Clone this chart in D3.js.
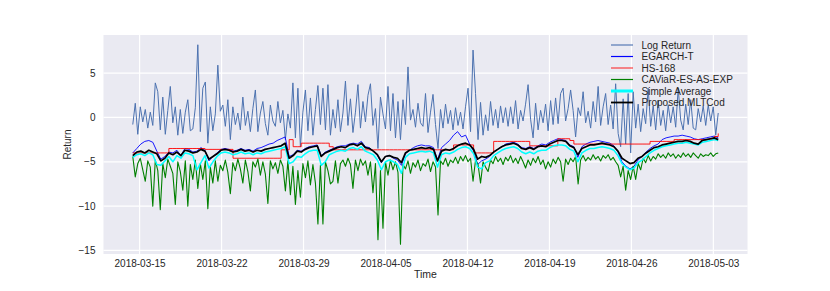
<!DOCTYPE html>
<html>
<head>
<meta charset="utf-8">
<script src="https://cdn.jsdelivr.net/npm/d3@7"></script>
<style>
  body { margin: 0; background: #fff; }
  svg text { font-family: "Liberation Sans", Arial, sans-serif; fill: #262626; }
</style>
</head>
<body>
<svg id="chart"></svg>
<script>
const startTime = '2018-03-14T10:00:00Z';
const endTime = '2018-05-03T10:00:00Z';

const logReturn = [
  -0.8, 1.6, -1.9, 1.2, -0.5, 0.9, -1.2, 0.6, -0.9, 3.9,
  2.9, -1.4, 2.3, -1.9, 0.8, 3.5, -0.6, 1.2, -2.0, 0.9,
  -1.8, 0.6, 2.0, -1.5, -1.3, 1.1, 8.2, -1.6, 3.3, 4.0,
  -2.9, 1.2, -1.5, 0.4, 5.9, 0.7, 1.4, -1.0, 2.0, -2.5,
  1.2, -0.8, 0.5, -1.4, 2.3, -0.9, 0.7, -1.6, 1.0, 3.1,
  -1.6, 0.5, 1.8, -0.7, -2.0, 1.4, -0.4, -1.0, 1.8, -0.6,
  0.8, -2.5, 0.4, -1.2, 3.9, -2.3, 3.3, -3.3, 0.6, 3.1,
  -1.5, 2.2, -2.0, 0.9, 3.6, -0.8, 3.3, -1.4, 3.7, -2.0,
  0.9, -1.2, 2.0, -1.6, 0.5, 4.1, -0.9, 2.1, -1.7, 0.6,
  3.7, -1.2, 1.8, -0.5, 2.5, 3.8, -0.9, 1.0, -3.5, 2.3,
  0.4, -1.3, 3.5, -1.5, 2.7, -2.3, 1.8, -2.5, 2.0, -0.8,
  5.7, -0.3, 0.9, -1.1, 1.6, -0.6, -1.0, 2.7, -1.7, 0.6,
  2.6, -0.8, -3.5, 0.9, -1.2, 1.5, -0.7, 0.8, -1.4, 1.1,
  -0.9, 0.6, -1.3, 1.2, 3.3, -1.6, 7.6, 2.7, -2.5, 1.7,
  -2.0, 0.3, -1.5, 1.8, -0.9, 0.9, -1.2, 1.3, -0.6, 1.1,
  -1.0, 1.2, -0.7, 1.9, -1.3, 0.8, -0.4, 1.5, 3.7, -0.2,
  -2.3, 1.6, -1.4, 0.8, -0.6, 1.5, -1.5, 1.9, -0.8, 2.2,
  -0.7, 2.7, 3.3, -0.4, 1.0, 3.1, 0.8, -2.2, 1.1, 0.2,
  2.9, -0.6, 0.7, -1.2, 1.8, -0.5, 3.5, -0.9, 1.2, 2.7,
  -0.8, 1.4, -1.3, 3.8, -1.8, -3.3, 2.1, -3.0, 2.7, -4.0,
  2.9, -1.2, 1.5, -1.6, 1.0, -0.7, 3.3, -1.0, 1.3, -1.4,
  1.9, -0.9, 0.8, -1.5, 1.4, -0.6, 1.2, -1.1, 3.3, -0.3,
  -1.4, 1.5, -0.8, 2.0, -1.2, -1.4, 1.0, -0.5, 1.3, -0.9,
  1.4, -0.4, 1.2, -2.0, 0.5
];

const egarchT = [
  -4.0, -3.5, -3.0, -2.7, -2.6, -2.8, -3.8, -4.7, -4.4, -3.9,
  -4.0, -3.7, -4.3, -3.5, -3.6, -3.9, -3.8, -3.4, -3.7, -4.9,
  -4.4, -4.0, -3.6, -3.5, -3.6, -3.8, -3.7, -3.5, -3.7, -3.6,
  -3.8, -3.5, -3.4, -3.2, -3.0, -2.9, -2.6, -2.4, -2.2, -4.4,
  -4.2, -3.7, -3.8, -3.5, -3.3, -3.2, -3.1, -4.3, -3.9, -3.7,
  -3.5, -3.3, -3.2, -3.2, -3.0, -2.9, -3.0, -2.7, -3.3, -3.4,
  -3.8, -4.3, -5.1, -4.4, -4.3, -4.6, -4.8, -5.4, -4.1, -3.7,
  -3.4, -3.2, -3.1, -3.2, -3.2, -3.4, -4.8, -3.4, -3.0, -2.6,
  -2.0, -1.6, -2.2, -2.0, -3.0, -3.8, -5.3, -4.9, -4.7, -4.4,
  -3.9, -3.6, -3.3, -3.0, -2.9, -2.8, -3.0, -3.4, -3.5, -3.3,
  -3.5, -3.2, -3.0, -3.1, -2.8, -2.6, -2.4, -2.5, -2.6, -3.1,
  -3.3, -4.5, -3.3, -3.0, -2.8, -2.7, -2.6, -2.7, -2.8, -2.9,
  -3.2, -3.9, -5.0, -5.5, -5.8, -5.5, -4.8, -4.4, -3.9, -3.5,
  -3.2, -3.0, -2.5, -2.3, -2.2, -2.1, -2.1, -2.0, -2.1, -2.2,
  -2.4, -2.5, -2.4, -2.3, -2.2, -2.1, -2.3
];

const hs168 = [
  -4.0, -4.0, -4.0, -4.0, -4.0, -4.0, -4.0, -4.0, -4.0,
  -3.5, -3.5, -3.5, -3.5, -3.5, -3.5, -3.5, -3.5, -3.5,
  -3.6, -3.6, -3.6, -3.6, -3.6, -3.6, -3.6,
  -4.6, -4.6, -4.6, -4.6, -4.6, -4.6, -4.6, -4.6, -4.6, -4.6, -4.6, -4.6,
  -3.65, -3.65, -2.5, -3.3, -3.3,
  -2.9, -2.9, -2.9, -2.9, -2.9, -2.9, -2.9, -3.3,
  -3.65, -3.65, -3.65, -3.65, -3.65, -3.65, -3.65, -3.65, -3.65, -3.65,
  -3.65, -3.65, -3.65, -3.65, -3.65, -3.65, -3.65, -3.65, -3.65, -3.65,
  -3.65, -3.65, -3.65, -3.65, -3.65, -3.65, -3.65, -3.65, -3.65, -3.65,
  -3.1, -3.1, -3.1, -3.1, -3.1,
  -4.0, -4.0, -4.0, -4.0, -4.0,
  -2.7, -2.7, -2.7, -2.7, -2.7, -2.7, -2.7, -2.7, -2.7,
  -3.2, -3.2, -3.2, -3.2, -3.2, -3.2, -3.2,
  -2.4, -2.4, -2.4, -2.6,
  -3.0, -3.0, -3.0, -3.0, -3.0, -3.0, -3.0, -3.0, -3.0, -3.0,
  -3.0, -3.0, -3.0, -3.0, -3.0, -3.0, -3.0, -3.0, -3.0,
  -2.7, -2.7, -2.7, -2.7, -2.7, -2.7,
  -2.5, -2.5, -2.5, -2.5, -2.5, -2.5, -2.5, -2.5, -2.5, -2.5,
  -2.15, -1.8
];

const caviarEs = [
  -4.4, -6.7, -5.2, -4.6, -5.9, -7.2, -4.9, -5.6, -10.0, -4.8,
  -6.0, -10.4, -5.2, -6.8, -4.7, -5.5, -6.3, -9.8, -5.0, -6.1,
  -8.2, -4.9, -10.0, -5.3, -7.0, -4.8, -8.0, -5.2, -7.0, -4.9,
  -10.3, -5.6, -7.4, -4.9, -7.2, -5.4, -6.0, -4.8, -6.2, -8.6,
  -5.1, -6.0, -4.7, -5.8, -7.4, -4.8, -6.1, -8.3, -5.0, -5.6,
  -4.7, -6.5, -5.0, -6.4, -9.7, -4.9, -5.8, -5.1, -6.3, -4.8,
  -5.5, -8.3, -4.9, -8.7, -5.5, -9.8, -6.0, -9.0, -5.2, -6.8,
  -4.9, -7.6, -5.3, -7.4, -12.0, -5.4, -12.0, -5.0, -6.0, -7.5,
  -7.2, -4.9, -7.4, -5.2, -4.8, -5.5, -4.6, -5.3, -8.0, -4.8,
  -6.0, -4.7, -5.4, -4.9, -6.5, -5.0, -8.5, -5.2, -13.8, -6.0,
  -12.5, -5.0, -6.5, -4.8, -5.9, -5.0, -6.2, -14.3, -5.3, -5.8,
  -4.9, -6.3, -5.1, -5.6, -4.8, -6.0, -5.2, -5.5, -4.7, -6.1,
  -5.0, -5.6, -11.0, -4.9, -5.3, -4.6, -5.5, -4.8, -5.1, -4.5,
  -5.2, -4.4, -4.9, -4.3, -5.0, -4.6, -7.2, -4.8, -5.3, -7.4,
  -5.0, -5.6, -6.1, -4.8, -5.2, -4.4, -5.0, -4.6, -5.3, -4.5,
  -4.9, -4.3, -5.1, -4.6, -5.2, -4.4, -5.0, -5.7, -4.8, -5.4,
  -4.6, -5.1, -4.4, -5.3, -4.8, -5.8, -5.0, -5.6, -4.7, -5.2,
  -4.5, -5.0, -7.2, -4.7, -5.3, -4.6, -5.0, -4.4, -7.5, -4.8,
  -4.3, -4.9, -4.5, -4.8, -4.2, -4.7, -4.4, -4.9, -4.3, -4.6,
  -4.2, -4.8, -4.5, -5.0, -5.4, -6.7, -5.5, -8.2, -6.0, -7.0,
  -5.5, -7.0, -5.2, -5.9, -4.6, -5.1, -4.3, -4.9, -4.4, -4.7,
  -4.1, -4.5, -4.2, -4.6, -4.0, -4.4, -4.1, -4.6, -4.2, -4.5,
  -4.0, -4.4, -4.1, -4.5, -4.0, -4.3, -4.6, -4.1, -4.4, -4.2,
  -4.3, -4.0, -4.4, -4.1, -4.0
];

const simpleAverage = [
  -4.5, -4.2, -4.1, -4.3, -4.0, -4.2, -5.3, -5.4, -4.9, -4.4,
  -5.0, -4.3, -4.6, -4.0, -4.1, -4.3, -5.9, -5.1, -4.3, -5.7,
  -5.0, -4.4, -4.0, -3.9, -4.0, -4.2, -4.1, -3.9, -4.1, -4.0,
  -4.2, -4.0, -4.1, -3.9, -3.8, -3.7, -3.6, -3.5, -3.3, -5.2,
  -5.0, -4.4, -4.5, -4.1, -3.8, -3.7, -3.7, -5.4, -5.0, -4.2,
  -4.0, -3.8, -3.7, -3.8, -3.5, -3.4, -3.6, -3.3, -3.8, -4.0,
  -4.2, -4.8, -5.9, -5.0, -4.8, -5.0, -5.3, -6.3, -4.5, -4.1,
  -4.0, -3.9, -3.8, -3.9, -3.8, -4.0, -5.6, -4.2, -4.0, -4.1,
  -3.9, -3.6, -3.4, -3.3, -3.5, -4.1, -5.6, -5.8, -5.1, -4.9,
  -4.3, -4.0, -3.7, -3.5, -3.4, -3.3, -3.5, -3.9, -4.1, -3.9,
  -4.1, -3.8, -3.7, -3.7, -3.4, -3.2, -3.1, -3.1, -3.2, -3.6,
  -3.8, -5.0, -4.0, -3.7, -3.5, -3.5, -3.4, -3.3, -3.4, -3.5,
  -3.7, -4.3, -5.2, -5.6, -5.9, -5.7, -5.1, -4.8, -4.4, -4.0,
  -3.7, -3.5, -3.3, -3.2, -3.1, -3.0, -2.9, -2.9, -2.8, -2.9,
  -3.0, -3.1, -2.8, -2.7, -2.6, -2.5, -2.6
];

const proposedMltcod = [
  -4.3, -3.9, -3.8, -4.0, -3.7, -3.9, -4.1, -4.9, -4.6, -4.0,
  -4.2, -3.9, -4.3, -3.7, -3.8, -4.0, -3.9, -3.6, -3.8, -4.7,
  -4.4, -4.1, -3.7, -3.6, -3.7, -3.9, -3.8, -3.6, -3.8, -3.7,
  -3.9, -3.7, -3.8, -3.6, -3.5, -3.4, -3.3, -3.2, -2.9, -4.6,
  -4.3, -3.8, -3.9, -3.6, -3.4, -3.3, -3.2, -4.4, -4.0, -3.8,
  -3.6, -3.4, -3.3, -3.4, -3.1, -3.0, -3.2, -2.9, -3.4, -3.5,
  -3.8, -4.2, -5.0, -4.4, -4.3, -4.5, -4.6, -5.1, -4.0, -3.7,
  -3.6, -3.5, -3.4, -3.5, -3.4, -3.6, -4.9, -3.8, -3.6, -3.7,
  -3.5, -3.2, -3.0, -2.9, -3.1, -3.6, -4.7, -4.4, -4.5, -4.3,
  -3.9, -3.6, -3.3, -3.1, -3.0, -2.9, -3.1, -3.5, -3.6, -3.4,
  -3.6, -3.3, -3.2, -3.3, -3.0, -2.8, -2.6, -2.6, -2.7, -3.2,
  -3.4, -4.2, -3.5, -3.3, -3.1, -3.1, -3.0, -2.9, -3.0, -3.1,
  -3.3, -3.8, -4.6, -4.9, -5.2, -5.1, -4.6, -4.4, -4.0, -3.7,
  -3.4, -3.3, -3.1, -3.0, -2.9, -2.8, -2.7, -2.7, -2.6, -2.7,
  -2.9, -3.0, -2.6, -2.5, -2.4, -2.3, -2.5
];

const seriesNames = ['Log Return', 'EGARCH-T', 'HS-168', 'CAViaR-ES-AS-EXP', 'Simple Average', 'Proposed MLTCod'];
const xTickLabels = ['2018-03-15', '2018-03-22', '2018-03-29', '2018-04-05', '2018-04-12', '2018-04-19', '2018-04-26', '2018-05-03'];
const yTicks = [-15, -10, -5, 0, 5];

const config = {
  width: 830,
  height: 291,
  margin: { top: 35, right: 82.5, bottom: 37, left: 103.5 },
  get usableWidth() { return this.width - this.margin.left - this.margin.right; },
  get usableHeight() { return this.height - this.margin.top - this.margin.bottom; },
};

const parseDay = d3.utcParse('%Y-%m-%d');
const t0 = new Date(startTime);
const t1 = new Date(endTime);
const timeAt = (i, n) => new Date(+t0 + (t1 - t0) * i / (n - 1));

const series = [
  { name: seriesNames[0], values: logReturn, color: '#4c72b0', width: 1, legendWidth: 1.5 },
  { name: seriesNames[1], values: egarchT, color: '#0000ff', width: 0.9, legendWidth: 1.2 },
  { name: seriesNames[2], values: hs168, color: '#ff0000', width: 0.9, legendWidth: 1.2, step: true },
  { name: seriesNames[3], values: caviarEs, color: '#008000', width: 1.1, legendWidth: 1.2 },
  { name: seriesNames[4], values: simpleAverage, color: '#00ffff', width: 1.5, legendWidth: 3 },
  { name: seriesNames[5], values: proposedMltcod, color: '#000000', width: 1.7, legendWidth: 1.8 },
];

const svg = d3.select('#chart').attr('width', config.width).attr('height', config.height);

const g = svg.append('g')
  .attr('transform', `translate(${config.margin.left},${config.margin.top})`);

// 5% padding round the data, like matplotlib
const pad = (t1 - t0) * 0.05;
const x = d3.scaleUtc()
  .domain([new Date(+t0 - pad), new Date(+t1 + pad)])
  .range([0, config.usableWidth]);

const y = d3.scaleLinear()
  .domain([-15.4, 9.3])
  .range([config.usableHeight, 0]);

g.append('rect')
  .attr('width', config.usableWidth)
  .attr('height', config.usableHeight)
  .attr('fill', '#eaeaf2');

// grid
const xTicks = xTickLabels.map(parseDay);
g.append('g').selectAll('line')
  .data(xTicks)
  .join('line')
  .attr('x1', d => x(d)).attr('x2', d => x(d))
  .attr('y1', 0).attr('y2', config.usableHeight)
  .attr('stroke', '#fff').attr('stroke-width', 1.2);

g.append('g').selectAll('line')
  .data(yTicks)
  .join('line')
  .attr('x1', 0).attr('x2', config.usableWidth)
  .attr('y1', d => y(d)).attr('y2', d => y(d))
  .attr('stroke', '#fff').attr('stroke-width', 1.2);

// axes (labels only, seaborn darkgrid has no ticks or spines)
const xAxis = g.append('g')
  .attr('transform', `translate(0,${config.usableHeight})`)
  .call(d3.axisBottom(x)
    .tickValues(xTicks)
    .tickFormat(d3.utcFormat('%Y-%m-%d'))
    .tickSize(0)
    .tickPadding(6));

const yAxis = g.append('g')
  .call(d3.axisLeft(y)
    .tickValues(yTicks)
    .tickSize(0)
    .tickPadding(8));

[xAxis, yAxis].forEach(a => {
  a.select('.domain').remove();
  a.selectAll('text').attr('font-size', 10).attr('fill', '#262626')
    .attr('font-family', '"Liberation Sans", Arial, sans-serif');
});

svg.append('text')
  .attr('x', config.margin.left + config.usableWidth / 2)
  .attr('y', 278)
  .attr('text-anchor', 'middle')
  .attr('font-size', 10.5)
  .text('Time');

svg.append('text')
  .attr('transform', `translate(71,${config.margin.top + config.usableHeight / 2}) rotate(-90)`)
  .attr('text-anchor', 'middle')
  .attr('font-size', 10)
  .text('Return');

// lines
series.forEach(s => {
  const n = s.values.length;
  const line = d3.line()
    .x((d, i) => x(timeAt(i, n)))
    .y(d => y(d))
    .curve(s.step ? d3.curveStepAfter : d3.curveLinear);
  g.append('path')
    .datum(s.values)
    .attr('d', line)
    .attr('fill', 'none')
    .attr('stroke', s.color)
    .attr('stroke-width', s.width)
    .attr('stroke-linejoin', 'round');
});

// legend, no frame
const legend = svg.append('g').attr('transform', 'translate(611,45)');
const rows = legend.selectAll('g')
  .data(series)
  .join('g')
  .attr('transform', (d, i) => `translate(0,${i * 11.5})`);

rows.append('line')
  .attr('x1', 0).attr('x2', 22)
  .attr('stroke', d => d.color)
  .attr('stroke-opacity', (d, i) => (i === 0 || i === 2 ? 0.75 : 1))
  .attr('stroke-width', d => d.legendWidth);

rows.append('text')
  .attr('x', 30.5)
  .attr('dy', '0.35em')
  .attr('font-size', 10)
  .text(d => d.name);
</script>
</body>
</html>
